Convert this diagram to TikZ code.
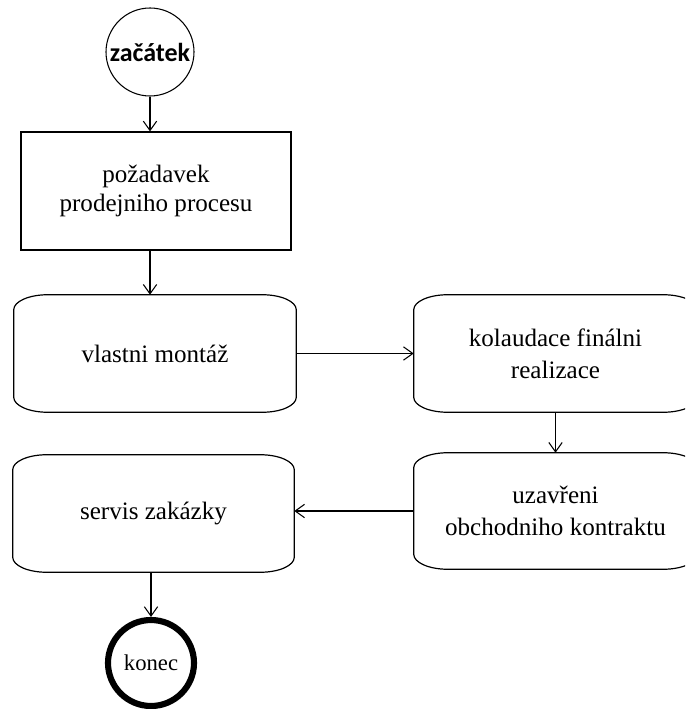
\documentclass[tikz,border=0pt]{standalone}
\usepackage{fontspec}
\setmainfont{Liberation Serif}
\newfontfamily\headfont{Carlito}
\usetikzlibrary{arrows.meta}

% corner radii of the soft-cornered step boxes
\newcommand{\crx}{25.5pt}
\newcommand{\cry}{11.25pt}
% outline of a step box with elliptical corners, drawn round a named node
\newcommand{\softbox}[1]{%
  \draw[boxline]
    ([xshift=\crx]#1.north west) -- ([xshift=-\crx]#1.north east)
    arc[start angle=90, end angle=0, x radius=\crx, y radius=\cry]
    -- ([yshift=\cry]#1.south east)
    arc[start angle=0, end angle=-90, x radius=\crx, y radius=\cry]
    -- ([xshift=\crx]#1.south west)
    arc[start angle=270, end angle=180, x radius=\crx, y radius=\cry]
    -- ([yshift=-\cry]#1.north west)
    arc[start angle=180, end angle=90, x radius=\crx, y radius=\cry]
    -- cycle;}

\begin{document}
\begin{tikzpicture}[x=0.75pt, y=-0.75pt,
  boxline/.style={line width=0.9pt, black},
  stepbox/.style={rectangle, inner sep=0pt, align=center,
    font=\fontsize{18.8}{24}\selectfont},
  plainbox/.style={stepbox, draw, line width=0.9pt},
  startnode/.style={circle, draw, line width=0.8pt, inner sep=0pt,
    minimum size=66pt, font=\headfont\bfseries\fontsize{19.5}{22}\selectfont},
  endnode/.style={circle, draw, line width=4.6pt, inner sep=0pt,
    minimum size=64.5pt, font=\fontsize{17}{20}\selectfont},
  arr/.style={line width=0.8pt, -{Straight Barb[length=7pt, width=10pt, line width=0.8pt]}}]

\useasboundingbox (0,0) rectangle (685,709);
\clip (0,0) rectangle (685,709);

\node[startnode] (start) at (150,52) {začátek};
\node[plainbox, minimum width=202.5pt, minimum height=88.5pt,
  font=\fontsize{18.8}{21.75}\selectfont] (req) at (156,191)
  {požadavek\\prodejniho procesu};

\node[stepbox, minimum width=211.5pt, minimum height=87.75pt] (mont) at (155,353.5) {vlastni montáž};
\node[stepbox, minimum width=212.25pt, minimum height=87.75pt] (kol) at (555.5,353.5) {kolaudace finálni\\realizace};
\node[stepbox, minimum width=212.25pt, minimum height=87pt] (uzav) at (555.5,511) {uzavřeni\\obchodniho kontraktu};
\node[stepbox, minimum width=210.75pt, minimum height=87.75pt] (serv) at (153.5,513.5) {servis zakázky};
\node[endnode] (end) at (151,663) {konec};

\softbox{mont}
\softbox{kol}
\softbox{uzav}
\softbox{serv}

\draw[arr] (start.south) -- (start.south |- req.north);
\draw[arr] (req.south -| start.south) -- (mont.north -| start.south);
\draw[arr] (mont.east) -- (kol.west);
\draw[arr] (kol.south) -- (kol.south |- uzav.north);
\draw[arr] (uzav.west) -- (uzav.west -| serv.east);
\draw[arr] (serv.south -| end.north) -- (end.north);
\end{tikzpicture}
\end{document}
